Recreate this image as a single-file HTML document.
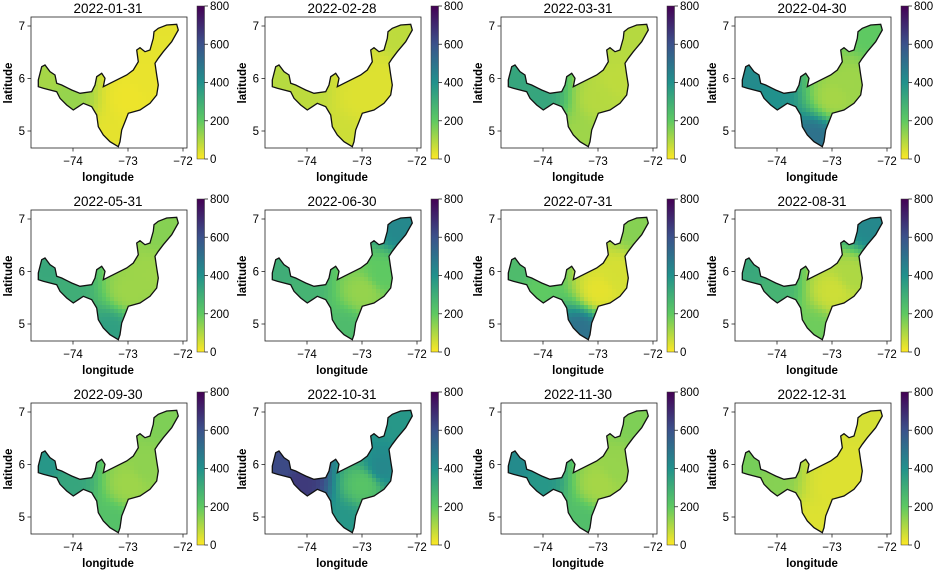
<!DOCTYPE html>
<html><head><meta charset="utf-8">
<style>
body{margin:0;background:#fff;}
svg text{font-family:"Liberation Sans","DejaVu Sans",sans-serif;fill:#000;}
</style></head>
<body>
<svg id="fig" width="937" height="570" viewBox="0 0 937 570" xmlns="http://www.w3.org/2000/svg">
<defs>
<linearGradient id="cbgrad" x1="0" y1="1" x2="0" y2="0">
<stop offset="0" stop-color="#fde725"/><stop offset="0.25" stop-color="#5ec962"/><stop offset="0.5" stop-color="#21918c"/><stop offset="0.75" stop-color="#3b528b"/><stop offset="1" stop-color="#440154"/>
</linearGradient>
</defs>
</svg>
<script>
const titles=["2022-01-31","2022-02-28","2022-03-31","2022-04-30","2022-05-31","2022-06-30","2022-07-31","2022-08-31","2022-09-30","2022-10-31","2022-11-30","2022-12-31"];
const westVals=[110,90,330,420,320,300,250,320,380,620,420,170];
const midwestVals=[130,80,330,400,300,280,200,280,330,660,380,150];
const centerVals=[20,40,90,110,120,130,30,60,120,220,110,40];
const southVals=[30,60,120,500,350,250,500,180,230,380,240,40];
const northeastVals=[30,80,90,200,150,430,150,430,160,380,160,50];
const eastVals=[25,40,80,120,120,200,50,100,140,430,130,40];
const lonTicks=[-74,-73,-72];
const latTicks=[5,6,7];
const cbTicks=[0,200,400,600,800];
const outline=[[25,195],[35,155],[45,150],[60,170],[75,180],[80,205],[95,210],[115,220],[125,225],[150,235],[185,230],[195,210],[200,185],[215,175],[225,190],[220,215],[240,205],[270,190],[290,180],[310,165],[325,140],[320,105],[330,98],[345,110],[360,105],[370,70],[372,50],[385,40],[410,30],[440,28],[445,45],[425,80],[400,110],[385,130],[375,145],[380,180],[385,210],[380,240],[360,265],[330,285],[295,295],[285,320],[275,345],[270,380],[265,395],[240,380],[220,360],[205,335],[200,300],[185,275],[160,265],[145,275],[130,285],[110,270],[90,250],[80,230],[60,225],[40,220],[25,215]];
const NS="http://www.w3.org/2000/svg";
const svg=document.getElementById('fig');
const defs=svg.querySelector('defs');
const colOff=[0,234,470,704], rowOff=[0,193,386];
const xs=lon=>73+(lon+74)*55;
const ys=lat=>26+(7-lat)*52.5;
const cbY=v=>159-v/800*153;
const stops=[[0,[253,231,37]],[0.25,[94,201,98]],[0.5,[33,145,140]],[0.75,[59,82,139]],[1,[68,1,84]]];
function cmap(v){let t=Math.max(0,Math.min(1,v/800));for(let i=0;i<4;i++){const a=stops[i],b=stops[i+1];if(t<=b[0]){const f=(t-a[0])/(b[0]-a[0]);return 'rgb('+a[1].map((c,k)=>Math.round(c+(b[1][k]-c)*f)).join(',')+')';}}return 'rgb(68,1,84)';}
function el(tag,attrs,parent){const e=document.createElementNS(NS,tag);for(const k in attrs)e.setAttribute(k,attrs[k]);parent.appendChild(e);return e;}
const anchors=[[48,78],[68,97],[130,98],[110,138],[167,35],[147,82]];
const pts=outline.map(p=>(30+p[0]/3).toFixed(1)+','+(15+p[1]/3).toFixed(1)).join(' ');
titles.forEach((title,i)=>{
  const ox=colOff[i%4], oy=rowOff[Math.floor(i/4)];
  const g=el('g',{transform:'translate('+ox+','+oy+')'},svg);
  
  
  const cp=el('clipPath',{id:'clip'+i},defs);
  el('polygon',{points:pts},cp);
  const t=el('text',{x:108,y:13,'text-anchor':'middle','font-size':'13.5'},g);t.textContent=title;
  
  
  const vals=[westVals[i],midwestVals[i],centerVals[i],southVals[i],northeastVals[i],eastVals[i]];
  const field=el('g',{'clip-path':'url(#clip'+i+')'},g);
  
  
  for(let y=20;y<150;y+=4){for(let x=34;x<185;x+=4){
    let ws=0,s=0;anchors.forEach((a,k)=>{const d=Math.pow((x+2-a[0])**2+(y+2-a[1])**2+30,1.8);const w=1/d;ws+=w;s+=w*vals[k];});
    const c=el('rect',{x:x,y:y,width:4.3,height:4.3,fill:cmap(s/ws)},field);
    
    
  }}
  const ol=el('polygon',{points:pts,fill:'none',stroke:'#111','stroke-width':1.3},g);
  
  
  const ax=el('rect',{x:31,y:17,width:156,height:131,fill:'none',stroke:'#222','stroke-width':0.8},g);
  
  
  lonTicks.forEach(v=>{el('line',{x1:xs(v),x2:xs(v),y1:148,y2:151.5,stroke:'#222','stroke-width':0.8},g);
    const tl=el('text',{x:xs(v),y:165,'text-anchor':'middle','font-size':'11.5'},g);tl.textContent='\u2212'+Math.abs(v);
    
    });
  latTicks.forEach(v=>{el('line',{x1:27.5,x2:31,y1:ys(v),y2:ys(v),stroke:'#222','stroke-width':0.8},g);
    const tl=el('text',{x:25,y:ys(v)+4,'text-anchor':'end','font-size':'11.5'},g);tl.textContent=v;
    
    });
  const xl=el('text',{x:108,y:181,'text-anchor':'middle','font-size':'11.5','font-weight':'bold'},g);xl.textContent='longitude';
  
  
  const yl=el('text',{x:0,y:0,'text-anchor':'middle','font-size':'11.5','font-weight':'bold',transform:'translate(12,83) rotate(-90)'},g);yl.textContent='latitude';
  
  
  const cb=el('rect',{x:197,y:6,width:7.5,height:153,fill:'url(#cbgrad)',stroke:'#333','stroke-width':0.5},g);
  
  
  cbTicks.forEach(v=>{el('line',{x1:204.5,x2:208,y1:cbY(v),y2:cbY(v),stroke:'#222','stroke-width':0.8},g);
    const tl=el('text',{x:210,y:cbY(v)+4,'font-size':'11.5'},g);tl.textContent=v;
    
    });
});
</script>
</body></html>
